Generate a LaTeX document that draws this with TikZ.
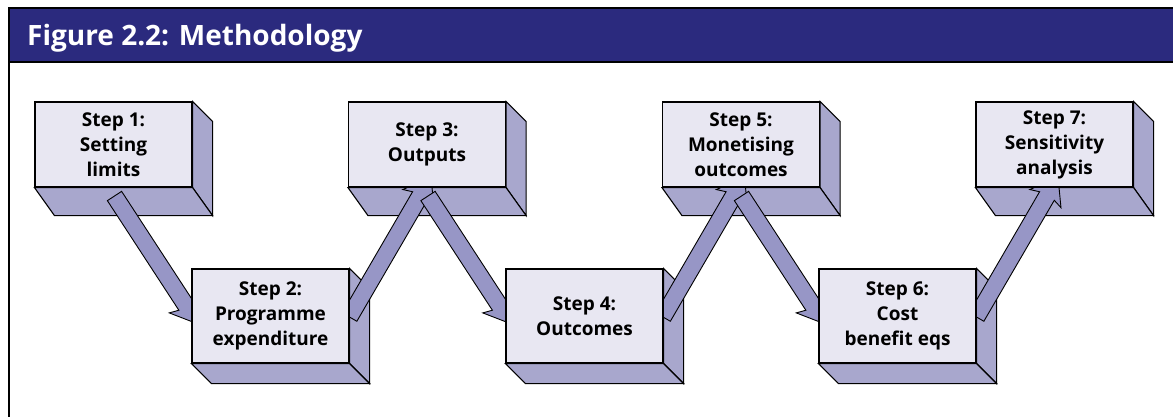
\documentclass[tikz,border=0pt]{standalone}
\usepackage{fontspec}
\setmainfont{Open Sans}
\usetikzlibrary{calc,backgrounds}
\definecolor{headblue}{RGB}{43,42,126}
\definecolor{facelight}{RGB}{232,231,242}
\definecolor{faceside}{RGB}{168,167,205}
\definecolor{flowfill}{RGB}{151,150,198}
\newcommand\flowarrow[2]{%
  \path ($(#2)!22pt!(#1)$) coordinate (fc) ($(#2)!25pt!(#1)$) coordinate (fb);
  \draw[flow] ($(#1)!8.5pt!90:(#2)$) -- ($(fc)!8.5pt!90:(#2)$) -- ($(fb)!18pt!90:(#2)$)
    -- (#2) -- ($(fb)!18pt!-90:(#2)$) -- ($(fc)!8.5pt!-90:(#2)$)
    -- ($(#1)!8.5pt!-90:(#2)$) -- cycle;}
\newcommand\boxsides[2]{%
  \draw[side] (#1.north east) -- ++(20,20) -- ($(#1.south east)+(20,#2)$)
    -- (#1.south east) -- cycle;
  \draw[side] (#1.south west) -- (#1.south east) -- ($(#1.south east)+(20,#2)$)
    -- ($(#1.south west)+(20,#2)$) -- cycle;}
\begin{document}
\begin{tikzpicture}
  [x=1pt,y=-1pt,line join=miter,
   front/.style={draw=black,fill=facelight,line width=1.1pt,inner sep=0pt,
     minimum width=157pt,align=center,
     font=\fontsize{19}{25}\selectfont\bfseries},
   upper/.style={front,minimum height=85pt},
   lower/.style={front,minimum height=94pt},
   side/.style={draw=black,fill=faceside,line width=1.1pt},
   flow/.style={draw=black,fill=flowfill,line width=0.9pt}]
  \useasboundingbox (0,0) rectangle (1173,416);
  \clip (0,0) rectangle (1173,416);

  % frame and title bar
  \fill[headblue] (9,8) rectangle (1190,62);
  \draw[line width=2pt] (9,8) rectangle (1190,440);
  \draw[line width=2pt] (9,62) -- (1190,62);
  \node[anchor=base west,text=white,inner sep=0pt,
    font=\fontsize{28}{32}\selectfont\bfseries] (title) at (27,45)
    {Figure 2.2: Methodology};

  % steps
  \node[upper] (s1) at (113.5,144.5) {Step 1:\\Setting\\limits};
  \node[lower] (s2) at (270.5,316) {Step 2:\\Programme\\expenditure};
  \node[upper] (s3) at (427,144.5) {Step 3:\\Outputs};
  \node[lower] (s4) at (584.5,316) {Step 4:\\Outcomes};
  \node[upper] (s5) at (741,144.5) {Step 5:\\Monetising\\outcomes};
  \node[lower] (s6) at (897.5,316) {Step 6:\\Cost\\benefit eqs};
  \node[upper] (s7) at (1054.5,144.5) {Step 7:\\Sensitivity\\analysis};

  % arrow ends
  \coordinate (t1) at (114.5,196);   \coordinate (h1) at (198,324);
  \coordinate (t2) at (349.5,317);   \coordinate (h2) at (431,177);
  \coordinate (t3) at (428,196);     \coordinate (h3) at (511.5,324);
  \coordinate (t4) at (663,317);     \coordinate (h4) at (744.5,177);
  \coordinate (t5) at (741.5,196);   \coordinate (h5) at (825,324);
  \coordinate (t6) at (976.5,317);   \coordinate (h6) at (1058,177);

  \begin{pgfonlayer}{background}
    \boxsides{s1}{28}
    \boxsides{s2}{20}
    \boxsides{s3}{28}
    \boxsides{s4}{20}
    \boxsides{s5}{28}
    \boxsides{s6}{20}
    \boxsides{s7}{28}

    \flowarrow{t1}{h1}
    \flowarrow{t2}{h2}
    \flowarrow{t3}{h3}
    \flowarrow{t4}{h4}
    \flowarrow{t5}{h5}
    \flowarrow{t6}{h6}
  \end{pgfonlayer}
\end{tikzpicture}
\end{document}
